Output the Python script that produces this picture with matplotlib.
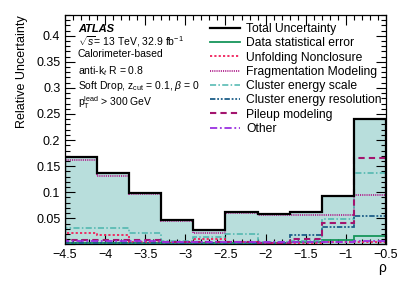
import numpy as np
import matplotlib
matplotlib.use('Agg')
import matplotlib.pyplot as plt
from matplotlib.ticker import MultipleLocator, FuncFormatter

plt.rcParams['font.family'] = ['Liberation Sans', 'DejaVu Sans']
plt.rcParams['mathtext.fontset'] = 'custom'
plt.rcParams['mathtext.rm'] = 'Liberation Sans'
plt.rcParams['mathtext.it'] = 'Liberation Sans:italic'

# bin edges in rho
edges = [-4.5, -4.1, -3.7, -3.3, -2.9, -2.5, -2.1, -1.7, -1.3, -0.9, -0.5]

# relative uncertainties per bin
total = [0.167, 0.136, 0.099, 0.047, 0.0275, 0.062, 0.059, 0.062, 0.093, 0.240]
data_stat = [0.003, 0.003, 0.003, 0.003, 0.003, 0.003, 0.003, 0.005, 0.009, 0.017]
unfolding = [0.022, 0.018, 0.005, 0.005, 0.011, 0.004, 0.003, 0.003, 0.004, 0.004]
fragmentation = [0.162, 0.132, 0.096, 0.045, 0.021, 0.060, 0.057, 0.057, 0.056, 0.095]
cl_scale = [0.032, 0.032, 0.021, 0.006, 0.0145, 0.020, 0.005, 0.006, 0.048, 0.136]
cl_res = [0.002, 0.002, 0.002, 0.002, 0.002, 0.002, 0.002, 0.018, 0.033, 0.054]
pileup = [0.008, 0.008, 0.008, 0.004, 0.004, 0.004, 0.002, 0.010, 0.041, 0.165]
other = [0.007, 0.006, 0.006, 0.005, 0.005, 0.005, 0.005, 0.005, 0.005, 0.006]

fig = plt.figure(figsize=(4.07, 2.92), dpi=100)
ax = fig.add_axes([0.160, 0.163, 0.788, 0.786])

ax.stairs(total, edges, fill=True, color='#b8dedc', zorder=1)
ax.stairs(total, edges, color='black', lw=1.6, label='Total Uncertainty', zorder=5)
ax.stairs(data_stat, edges, color='#16955a', lw=1.3, label='Data statistical error', zorder=4)
ax.stairs(unfolding, edges, color='#f0205a', lw=1.3, ls=(0, (1.2, 1.2)), label='Unfolding Nonclosure', zorder=4)
ax.stairs(fragmentation, edges, color='#b0208c', lw=1.3, ls=(0, (0.6, 0.6)), label='Fragmentation Modeling', zorder=4)
ax.stairs(cl_scale, edges, color='#4ab5ad', lw=1.1, ls=(0, (4, 1.5, 1, 1.5)), label='Cluster energy scale', zorder=4)
ax.stairs(cl_res, edges, color='#1d5e88', lw=1.3, ls=(0, (3, 1, 1, 1, 1, 1)), label='Cluster energy resolution', zorder=4)
ax.stairs(pileup, edges, color='#a3146e', lw=1.5, ls=(0, (3, 2)), label='Pileup modeling', zorder=4)
ax.stairs(other, edges, color='#9b30e0', lw=1.3, ls=(0, (4, 1.5, 1, 1.5)), label='Other', zorder=4)

ax.set_xlim(-4.5, -0.5)
ax.set_ylim(0, 0.44)

ax.xaxis.set_major_locator(MultipleLocator(0.5))
ax.xaxis.set_minor_locator(MultipleLocator(0.1))
ax.yaxis.set_major_locator(MultipleLocator(0.05))
ax.yaxis.set_minor_locator(MultipleLocator(0.01))

def xfmt(v, pos):
    s = ('%g' % v).replace('-', '\u2212')
    return s
def yfmt(v, pos):
    if abs(v) < 1e-9:
        return ''
    return '%g' % round(v, 3)
ax.xaxis.set_major_formatter(FuncFormatter(xfmt))
ax.yaxis.set_major_formatter(FuncFormatter(yfmt))

ax.tick_params(which='both', direction='in', top=True, right=True, labelsize=9)
ax.tick_params(which='major', length=7, width=0.8)
ax.tick_params(which='minor', length=3.5, width=0.8)
ax.tick_params(axis='x', pad=3)
for s in ax.spines.values():
    s.set_linewidth(0.9)

ax.set_ylabel('Relative Uncertainty', fontsize=9, labelpad=6, loc='top')
ax.set_xlabel('\u03c1', fontsize=10, loc='right', labelpad=0)

# ATLAS text block
tx = 0.04
ax.text(tx, 0.962, 'ATLAS', transform=ax.transAxes, fontsize=8, fontweight='bold',
        style='italic', va='top')
lines = [r'$\sqrt{s}$= 13 TeV, 32.9 fb$^{-1}$',
         'Calorimeter-based',
         r'anti-k$_{t}$ R = 0.8',
         r'Soft Drop, z$_{\rm cut}$ = 0.1, $\beta$ = 0',
         r'p$_{\rm T}^{\rm lead}$ > 300 GeV']
for i, t in enumerate(lines):
    ax.text(tx, 0.917 - i * 0.066, t, transform=ax.transAxes, fontsize=7.5, va='top')

ax.legend(loc='upper left', bbox_to_anchor=(0.452, 0.965), frameon=False, fontsize=8.7,
          handlelength=2.5, handletextpad=0.5, labelspacing=0.19, borderaxespad=0,
          borderpad=0)

fig.savefig('out.png', dpi=100)
